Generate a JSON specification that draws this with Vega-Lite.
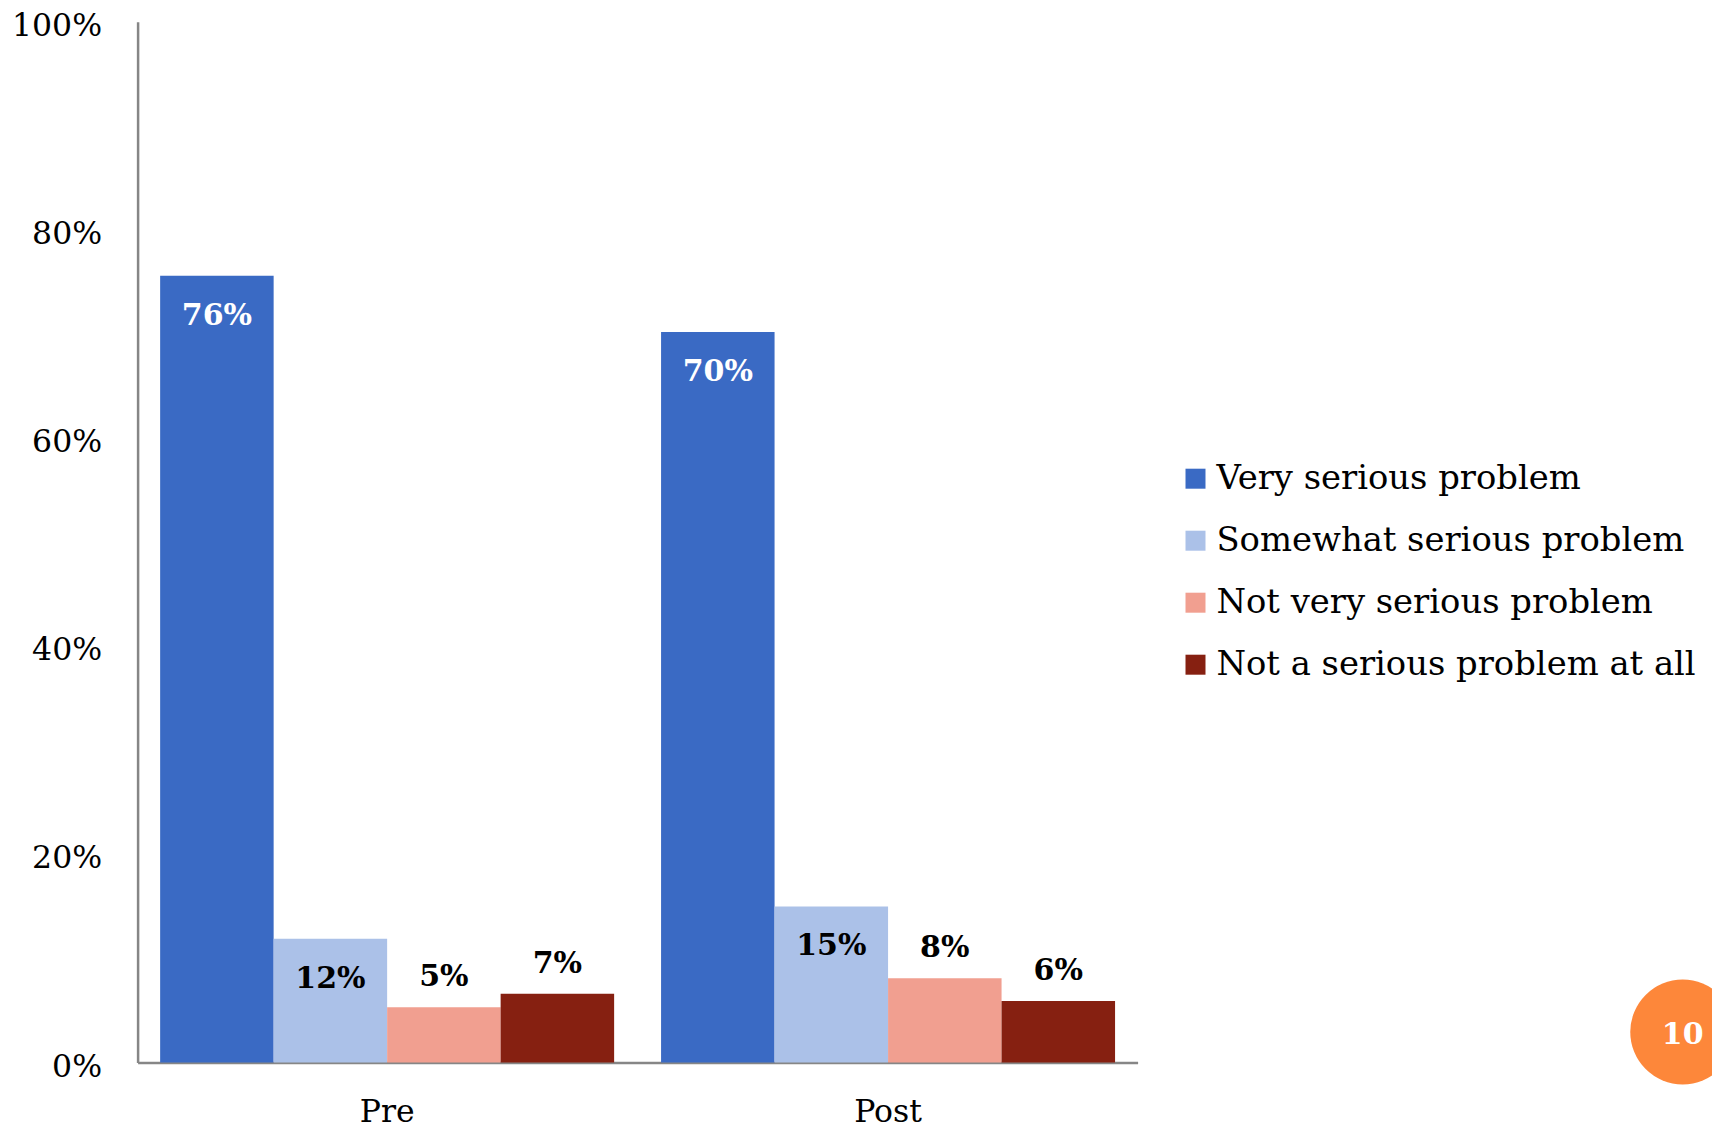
{
  "$schema": "https://vega.github.io/schema/vega-lite/v6.json",
  "width": 1000,
  "height": 1040.7,
  "autosize": {"type": "none"},
  "padding": {"left": 137.6, "top": 21.8, "right": 574.4, "bottom": 67.5},
  "background": "white",
  "datasets": {
    "survey": [
      {"period": "Pre", "series": "Very serious problem", "share": 0.756},
      {"period": "Pre", "series": "Somewhat serious problem", "share": 0.119},
      {"period": "Pre", "series": "Not very serious problem", "share": 0.053},
      {"period": "Pre", "series": "Not a serious problem at all", "share": 0.066},
      {"period": "Post", "series": "Very serious problem", "share": 0.702},
      {"period": "Post", "series": "Somewhat serious problem", "share": 0.150},
      {"period": "Post", "series": "Not very serious problem", "share": 0.081},
      {"period": "Post", "series": "Not a serious problem at all", "share": 0.059}
    ],
    "badge": [{"pos": 1.5451, "share": 0.0293, "label": "10"}]
  },
  "layer": [
    {
      "data": {"name": "survey"},
      "encoding": {
        "x": {
          "field": "period", "type": "nominal", "sort": ["Pre", "Post"], "title": null,
          "scale": {"paddingInner": 0.0937, "paddingOuter": 0.045},
          "axis": {
            "labelAngle": 0, "ticks": false, "domainColor": "#868686", "domainWidth": 2.5,
            "labelFont": "DejaVu Serif", "labelFontSize": 31.5, "labelColor": "black", "labelPadding": 34
          }
        },
        "xOffset": {
          "field": "series", "type": "nominal",
          "sort": ["Very serious problem", "Somewhat serious problem", "Not very serious problem", "Not a serious problem at all"],
          "scale": {"paddingInner": 0, "paddingOuter": 0}
        },
        "y": {
          "field": "share", "type": "quantitative", "title": null,
          "scale": {"domain": [0, 1]},
          "axis": {
            "format": ".0%", "values": [0, 0.2, 0.4, 0.6, 0.8, 1], "grid": false, "ticks": false,
            "domainColor": "#868686", "domainWidth": 2.5,
            "labelFont": "DejaVu Serif", "labelFontSize": 31.5, "labelColor": "black", "labelPadding": 36,
            "labelOffset": 4.5
          }
        }
      },
      "layer": [
        {
          "mark": {"type": "bar"},
          "encoding": {
            "color": {
              "field": "series", "type": "nominal",
              "sort": ["Very serious problem", "Somewhat serious problem", "Not very serious problem", "Not a serious problem at all"],
              "scale": {
                "domain": ["Very serious problem", "Somewhat serious problem", "Not very serious problem", "Not a serious problem at all"],
                "range": ["#3A6AC4", "#ABC1E8", "#F19F90", "#862011"]
              },
              "legend": {
                "orient": "none", "legendX": 1041, "legendY": 440, "title": null,
                "symbolType": "square", "symbolSize": 400, "symbolStrokeWidth": 0,
                "labelFont": "DejaVu Serif", "labelFontSize": 33.8, "labelColor": "black",
                "labelOffset": 4, "rowPadding": 27, "labelLimit": 600
              }
            }
          }
        },
        {
          "transform": [{"filter": "datum.series == 'Very serious problem' || datum.series == 'Somewhat serious problem'"}],
          "mark": {"type": "text", "baseline": "middle", "dy": 40, "font": "DejaVu Serif", "fontWeight": "bold", "fontSize": 30},
          "encoding": {
            "text": {"field": "share", "type": "quantitative", "format": ".0%"},
            "color": {"condition": {"test": "datum.series == 'Very serious problem'", "value": "white"}, "value": "black"}
          }
        },
        {
          "transform": [{"filter": "datum.series == 'Not very serious problem' || datum.series == 'Not a serious problem at all'"}],
          "mark": {"type": "text", "baseline": "middle", "dy": -30, "font": "DejaVu Serif", "fontWeight": "bold", "fontSize": 30, "color": "black"},
          "encoding": {
            "text": {"field": "share", "type": "quantitative", "format": ".0%"}
          }
        }
      ]
    },
    {
      "data": {"name": "badge"},
      "encoding": {
        "x": {"field": "pos", "type": "quantitative", "scale": {"domain": [0, 1]}, "axis": null},
        "y": {"field": "share", "type": "quantitative"}
      },
      "layer": [
        {"mark": {"type": "point", "shape": "circle", "filled": true, "size": 11000, "color": "#FD873A", "opacity": 1}},
        {
          "mark": {"type": "text", "baseline": "middle", "dy": 3, "font": "DejaVu Serif", "fontWeight": "bold", "fontSize": 30, "color": "white"},
          "encoding": {"text": {"field": "label"}}
        }
      ]
    }
  ],
  "resolve": {"scale": {"x": "independent"}},
  "config": {"view": {"stroke": null}}
}
